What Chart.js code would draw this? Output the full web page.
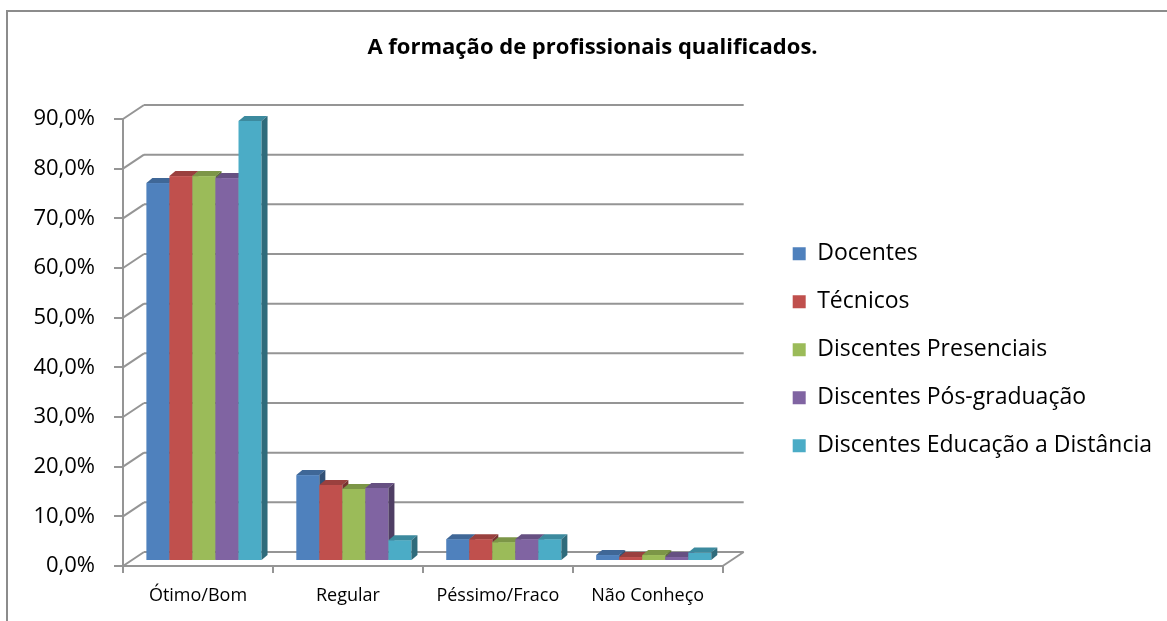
<!DOCTYPE html>
<html>
<head>
<meta charset="utf-8">
<script src="https://cdn.jsdelivr.net/npm/chart.js@4.4.1/dist/chart.umd.min.js"></script>
<style>
  html, body { margin: 0; padding: 0; background: #ffffff; }
  #wrap { width: 1167px; height: 621px; position: relative; }
</style>
</head>
<body>
<div id="wrap"><canvas id="chart"></canvas></div>
<script>
const categories = ['Ótimo/Bom', 'Regular', 'Péssimo/Fraco', 'Não Conheço'];
const seriesNames = ['Docentes', 'Técnicos', 'Discentes Presenciais', 'Discentes Pós-graduação', 'Discentes Educação a Distância'];
const docentes = [76.1, 17.3, 4.4, 1.2];
const tecnicos = [77.5, 15.3, 4.4, 0.8];
const presenciais = [77.5, 14.5, 3.8, 1.2];
const posGraduacao = [77.1, 14.7, 4.4, 0.8];
const distancia = [88.6, 4.2, 4.4, 1.7];
const yTicks = [0, 10, 20, 30, 40, 50, 60, 70, 80, 90];

const seriesColors = ['#4F81BD', '#C0504D', '#9BBB59', '#8064A2', '#4BACC6'];
const GRID = '#959595';
const FONT = "'Open Sans', 'Noto Sans', sans-serif";

// 3D look: back wall offset, bar plane offset and bar thickness
const WALL_DX = 21, WALL_DY = 14;
const BAR_OX = 6, BAR_OY = 5;
const BAR_DX = 6, BAR_DY = 5;

function shade(hex, k) {
    const n = parseInt(hex.slice(1), 16);
    const r = Math.round(((n >> 16) & 255) * k);
    const g = Math.round(((n >> 8) & 255) * k);
    const b = Math.round((n & 255) * k);
    return `rgb(${r},${g},${b})`;
}

function line(ctx, x1, y1, x2, y2) {
    ctx.beginPath();
    ctx.moveTo(x1, y1);
    ctx.lineTo(x2, y2);
    ctx.stroke();
}

const framePlugin = {
    id: 'frame',
    beforeDraw(chart) {
        const ctx = chart.ctx;
        ctx.save();
        ctx.strokeStyle = '#8c8c8c';
        ctx.lineWidth = 2;
        ctx.beginPath();
        ctx.moveTo(7, chart.height);
        ctx.lineTo(7, 11);
        ctx.lineTo(chart.width, 11);
        ctx.stroke();
        ctx.restore();
    }
};

const wallsPlugin = {
    id: 'walls',
    beforeDatasetsDraw(chart) {
        const ctx = chart.ctx;
        const y = chart.scales.y;
        const { left, right, bottom } = chart.chartArea;
        ctx.save();
        ctx.strokeStyle = GRID;
        ctx.lineWidth = 2;
        y.ticks.forEach(t => {
            const py = y.getPixelForValue(t.value);
            line(ctx, left, py, left + WALL_DX, py - WALL_DY);
            line(ctx, left + WALL_DX, py - WALL_DY, right + WALL_DX, py - WALL_DY);
        });
        line(ctx, right, bottom, right + WALL_DX, bottom - WALL_DY);
        ctx.restore();
    }
};

const bars3dPlugin = {
    id: 'bars3d',
    beforeDatasetDraw() {
        return false;
    },
    afterDatasetsDraw(chart) {
        const ctx = chart.ctx;
        ctx.save();
        categories.forEach((c, j) => {
            chart.data.datasets.forEach((ds, i) => {
                const el = chart.getDatasetMeta(i).data[j];
                const p = el.getProps(['x', 'y', 'base', 'width'], true);
                const l = p.x - p.width / 2 + BAR_OX;
                const r = p.x + p.width / 2 + BAR_OX;
                const t = p.y - BAR_OY;
                const b = p.base - BAR_OY;
                const col = ds.backgroundColor;
                ctx.fillStyle = col;
                ctx.fillRect(l, t, r - l, b - t);
                // top face
                ctx.fillStyle = shade(col, 0.8);
                ctx.beginPath();
                ctx.moveTo(l, t);
                ctx.lineTo(r, t);
                ctx.lineTo(r + BAR_DX, t - BAR_DY);
                ctx.lineTo(l + BAR_DX, t - BAR_DY);
                ctx.closePath();
                ctx.fill();
                // side face
                ctx.fillStyle = shade(col, 0.62);
                ctx.beginPath();
                ctx.moveTo(r, t);
                ctx.lineTo(r + BAR_DX, t - BAR_DY);
                ctx.lineTo(r + BAR_DX, b - BAR_DY);
                ctx.lineTo(r, b);
                ctx.closePath();
                ctx.fill();
            });
        });
        ctx.restore();
    }
};

const seriesValues = [docentes, tecnicos, presenciais, posGraduacao, distancia];

new Chart(document.getElementById('chart'), {
    type: 'bar',
    data: {
        labels: categories,
        datasets: seriesNames.map((name, i) => ({
            label: name,
            data: seriesValues[i],
            backgroundColor: seriesColors[i],
            borderWidth: 0,
            barPercentage: 1,
            categoryPercentage: 0.768
        }))
    },
    options: {
        responsive: true,
        maintainAspectRatio: false,
        animation: false,
        layout: { padding: { left: 23, right: 5, top: 11, bottom: 0 } },
        plugins: {
            title: {
                display: true,
                text: 'A formação de profissionais qualificados.',
                color: '#000000',
                font: { family: FONT, size: 22, weight: 'bold' },
                padding: { top: 24, bottom: 57.6 }
            },
            legend: {
                display: true,
                position: 'right',
                fullSize: false,
                maxWidth: 460,
                title: { display: true, text: '', font: { size: 2 }, padding: 6 },
                labels: {
                    color: '#000000',
                    font: { family: FONT, size: 23 },
                    boxWidth: 13,
                    boxHeight: 13,
                    padding: 25
                }
            },
            tooltip: { enabled: false }
        },
        scales: {
            x: {
                grid: { display: true, drawOnChartArea: false, offset: true, tickLength: 7, color: GRID, lineWidth: 2 },
                border: { display: true, color: GRID, width: 2 },
                ticks: { color: '#000000', font: { family: FONT, size: 18 }, padding: 12, maxRotation: 0 },
                afterFit: s => { s.height = 55; }
            },
            y: {
                min: 0,
                max: 90,
                afterBuildTicks: s => { s.ticks = yTicks.map(v => ({ value: v })); },
                grid: { display: true, drawOnChartArea: false, tickLength: 9, color: GRID, lineWidth: 2 },
                border: { display: true, color: GRID, width: 2 },
                ticks: {
                    color: '#000000',
                    font: { family: FONT, size: 22 },
                    padding: 19,
                    callback: v => v.toFixed(1).replace('.', ',') + '%'
                },
                afterFit: s => { s.width = 100; }
            },
            gap: {
                type: 'linear',
                position: 'right',
                display: true,
                grid: { display: false },
                border: { display: false },
                ticks: { display: false },
                afterFit: s => { s.width = 45; }
            }
        }
    },
    plugins: [framePlugin, wallsPlugin, bars3dPlugin]
});
</script>
</body>
</html>
